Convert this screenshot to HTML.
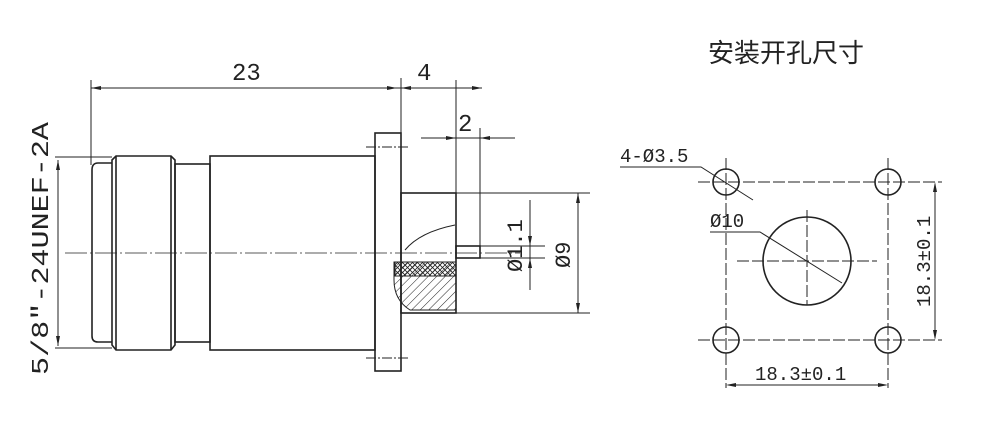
<!DOCTYPE html>
<html><head><meta charset="utf-8"><style>
html,body{margin:0;padding:0;background:#fff;width:1000px;height:427px;overflow:hidden}
svg{display:block}
text{font-family:"Liberation Mono","DejaVu Sans Mono",monospace;fill:#222}
</style></head><body>
<svg width="1000" height="427" viewBox="0 0 1000 427" xmlns="http://www.w3.org/2000/svg">
<defs>
<pattern id="h" width="6" height="6" patternUnits="userSpaceOnUse" patternTransform="rotate(45)"><line x1="0" y1="0" x2="0" y2="6" stroke="#222" stroke-width="1"/></pattern>
<pattern id="x" width="5" height="5" patternUnits="userSpaceOnUse"><path d="M0 0L5 5M5 0L0 5" stroke="#222" stroke-width="0.8"/></pattern>
</defs>
<g stroke="#222" fill="none" stroke-width="1">
<!-- dims top -->
<line x1="91" y1="88" x2="482" y2="88"/>
<line x1="91" y1="80" x2="91" y2="165"/>
<line x1="401" y1="78" x2="401" y2="133"/>
<line x1="456" y1="80" x2="456" y2="193"/>
<line x1="421" y1="138" x2="515" y2="138"/>
<line x1="480" y1="128" x2="480" y2="246"/>
<!-- left dim -->
<line x1="55" y1="157" x2="112" y2="157"/>
<line x1="55" y1="348" x2="112" y2="348"/>
<line x1="58" y1="160" x2="58" y2="346"/>
<!-- center line -->
<line x1="65" y1="253" x2="520" y2="253" stroke-dasharray="22,3,2,3" stroke-width="0.8"/>
<!-- body -->
<g stroke-width="1.6">
<path d="M112 163 L98 163 Q92 163 92 170 L92 336 Q92 342 98 342 L112 342"/>
<path d="M112 160 L116 156 L171 156 L175 160 L175 345 L171 350 L116 350 L112 345 Z"/>
<line x1="116" y1="156" x2="116" y2="350"/>
<line x1="171" y1="156" x2="171" y2="350"/>
<rect x="175" y="164" width="35" height="178"/>
<rect x="210" y="156" width="165" height="194"/>
<rect x="375" y="133" width="26" height="238"/>
<rect x="401" y="193" width="55" height="120"/>
<rect x="456" y="246" width="24" height="12"/>
</g>
<line x1="366" y1="147" x2="410" y2="147" stroke-dasharray="10,2,2,2"/>
<line x1="366" y1="358" x2="410" y2="358" stroke-dasharray="10,2,2,2"/>
<path d="M455 225 Q420 232 405 250" />
<path d="M394 262 L456 262 L456 310 L410 310 Q394 300 394 280 Z" fill="url(#h)"/>
<rect x="395" y="262" width="61" height="14" fill="url(#x)"/>
<!-- right dims -->
<line x1="456" y1="193" x2="590" y2="193"/>
<line x1="456" y1="313" x2="590" y2="313"/>
<line x1="578" y1="193" x2="578" y2="313"/>
<line x1="480" y1="246" x2="545" y2="246"/>
<line x1="480" y1="258" x2="545" y2="258"/>
<line x1="530" y1="200" x2="530" y2="290"/>
</g>
<g fill="#222">
<path d="M91 88l10-2v4z M397 88l-10-2v4z M401 88l10-2v4z M482 88l-10-2v4z"/>
<path d="M58 160l-2 10h4z M58 346l-2-10h4z"/>
<path d="M578 193l-2 10h4z M578 313l-2-10h4z"/>
<path d="M530 246l-2-10h4z M530 258l-2 10h4z"/>
<path d="M456 138l-10-2v4z M480 138l10-2v4z"/>
</g>
<text x="232" y="80" font-size="24">23</text>
<text x="417" y="80" font-size="24">4</text>
<text x="458" y="131" font-size="24">2</text>
<text transform="translate(48,375) rotate(-90)" font-size="24" textLength="253" lengthAdjust="spacingAndGlyphs">5/8″-24UNEF-2A</text>
<text transform="translate(522,272) rotate(-90)" font-size="22">Ø1.1</text>
<text transform="translate(570,268) rotate(-90)" font-size="22">Ø9</text>
<!-- right drawing -->
<text x="708" y="62" font-size="26" style="font-family:'Liberation Sans','Noto Sans CJK SC',sans-serif">安装开孔尺寸</text>
<g stroke="#222" fill="none" stroke-width="1">
<g stroke-dasharray="12,3">
<line x1="698" y1="182" x2="942" y2="182"/>
<line x1="698" y1="340" x2="942" y2="340"/>
<line x1="726" y1="158" x2="726" y2="388"/>
<line x1="888" y1="158" x2="888" y2="388"/>
<line x1="737" y1="261" x2="877" y2="261"/>
<line x1="807" y1="210" x2="807" y2="305"/>
</g>
<g stroke-width="1.6">
<circle cx="726" cy="182" r="13"/><circle cx="888" cy="182" r="13"/>
<circle cx="726" cy="340" r="13"/><circle cx="888" cy="340" r="13"/>
<circle cx="807" cy="261" r="44"/>
</g>
<line x1="935" y1="184" x2="935" y2="338"/>
<line x1="728" y1="385" x2="886" y2="385"/>
<polyline points="620,167 701,167 753,200"/>
<polyline points="710,232 760,232 842,283"/>
</g>
<g fill="#222">
<path d="M935 182l-2 10h4z M935 340l-2-10h4z M726 385l10-2v4z M888 385l-10-2v4z"/>
</g>
<text x="620" y="162" font-size="19">4-Ø3.5</text>
<text x="710" y="227" font-size="19">Ø10</text>
<text x="755" y="380" font-size="19">18.3±0.1</text>
<text transform="translate(930,307) rotate(-90)" font-size="19">18.3±0.1</text>
</svg>
</body></html>
